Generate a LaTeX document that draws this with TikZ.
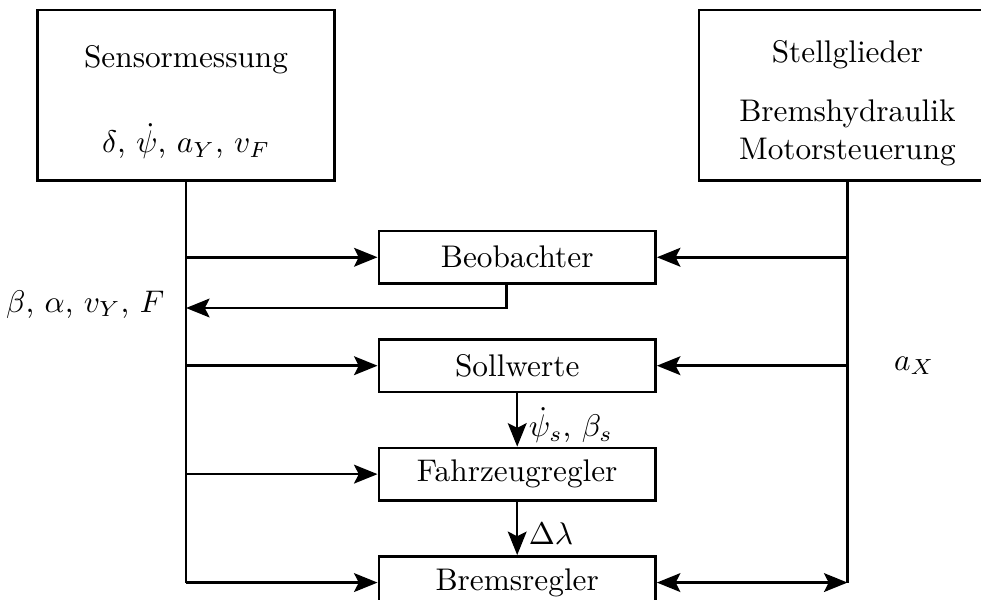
\documentclass[tikz,border=0pt]{standalone}
\usepackage{amsmath,amsfonts,amssymb}
\usetikzlibrary{positioning,arrows.meta}

\begin{document}
\begin{tikzpicture}[
    block/.style={draw, line width=0.8pt, minimum width=3.11cm, minimum height=0.59cm},
    gross/.style={draw, line width=0.8pt, minimum width=3.34cm, minimum height=1.91cm, align=center},
    linie/.style={line width=0.8pt},
    pfeil/.style={linie, -{Stealth[length=7.5pt,width=6pt,inset=1.5pt]}},
    doppelpfeil/.style={linie, {Stealth[length=7.5pt,width=6pt,inset=1.5pt]}-{Stealth[length=7.5pt,width=6pt,inset=1.5pt]}},
    node distance=0.6cm
]
    \useasboundingbox (0,0) rectangle (11.02,-6.73);
    % Sensoren und Stellglieder
    \node[gross] (sens) at (2.09,-1.07) {\rule{0pt}{11.5pt}Sensormessung\\[15pt] $\delta$, $\dot{\psi}$, $a_Y$, $v_F$};
    \node[gross] (stell) at (9.52,-1.07) {\rule{0pt}{12pt}Stellglieder\\[7pt] Bremshydraulik\\ Motorsteuerung};
    % Regler
    \node[block] (beob) at (5.81,-2.89) {Beobachter};
    \node[block, below=of beob] (soll) {Sollwerte};
    \node[block, below=of soll] (fzr) {Fahrzeugregler};
    \node[block, below=of fzr] (brems) {Bremsregler};
    % Sensorleitung
    \draw[linie] (sens.south) -- (sens.south |- brems.west);
    \foreach \ziel in {beob, soll, fzr, brems}
        \draw[pfeil] (sens.south |- \ziel.west) -- (\ziel.west);
    % Stellgliedleitung
    \draw[linie] (stell.south) -- (stell.south |- brems.east);
    \foreach \ziel in {beob, soll}
        \draw[pfeil] (stell.south |- \ziel.east) -- (\ziel.east);
    \draw[doppelpfeil] (brems.east) -- (stell.south |- brems.east);
    \node[right=0.4cm] (ax) at (stell.south |- soll.east) {$a_X$};
    % Rueckfuehrung Beobachter
    \coordinate (rueck) at (2.09,-3.46);
    \draw[pfeil] ([xshift=-0.12cm]beob.south) |- (rueck);
    \node[left=0.12cm of rueck, yshift=0.04cm] (schaetz) {$\beta$, $\alpha$, $v_Y$, $F$};
    % Signale zwischen den Reglern
    \draw[pfeil] (soll) -- (fzr) node[pos=0.6, right] {$\dot{\psi}_s$, $\beta_s$};
    \draw[pfeil] (fzr) -- (brems) node[pos=0.6, right] {$\Delta\lambda$};
\end{tikzpicture}
\end{document}
